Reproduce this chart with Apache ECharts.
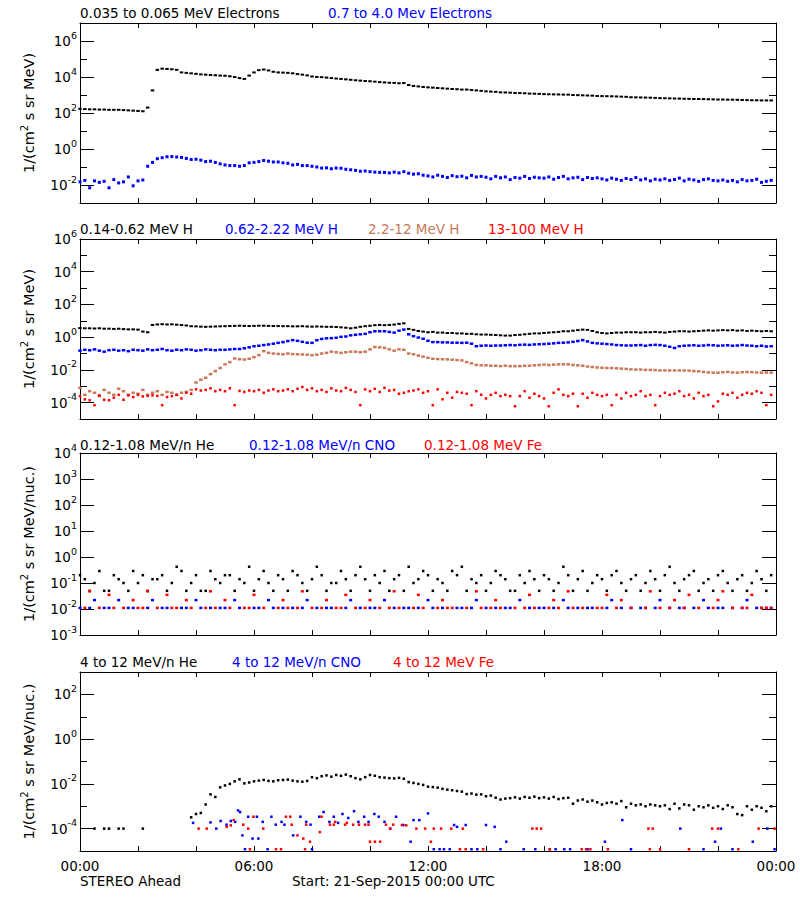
<!DOCTYPE html>
<html><head><meta charset="utf-8">
<script src="https://cdn.jsdelivr.net/npm/echarts/dist/echarts.min.js"></script>
<style>html,body{margin:0;padding:0;background:#fff}#c{width:800px;height:900px}</style>
</head><body><div id="c"></div>
<script>
// ---------- DATA (10-minute samples, index i -> hour i/6) ----------
const TIME_LABELS = ['00:00','06:00','12:00','18:00','00:00'];
const TIME_LABEL_HOURS = [0,6,12,18,24];

const P1_NAMES = ['0.035 to 0.065 MeV Electrons','0.7 to 4.0 Mev Electrons'];
const P2_NAMES = ['0.14-0.62 MeV H','0.62-2.22 MeV H','2.2-12 MeV H','13-100 MeV H'];
const P3_NAMES = ['0.12-1.08 MeV/n He','0.12-1.08 MeV/n CNO','0.12-1.08 MeV Fe'];
const P4_NAMES = ['4 to 12 MeV/n He','4 to 12 MeV/n CNO','4 to 12 MeV Fe'];
const FOOT_LEFT = 'STEREO Ahead';
const FOOT_MID = 'Start: 21-Sep-2015 00:00 UTC';

const P1_LABELS = [1e-2,1,1e2,1e4,1e6];           const P1_MINOR = [1e-1,10,1e3,1e5];
const P2_LABELS = [1e-4,1e-2,1,1e2,1e4,1e6];      const P2_MINOR = [1e-3,1e-1,10,1e3,1e5];
const P3_LABELS = [1e-3,1e-2,1e-1,1,10,100,1e3,1e4]; const P3_MINOR = [];
const P4_LABELS = [1e-4,1e-2,1,1e2];              const P4_MINOR = [1e-3,1e-1,10];

const e1 = [
170,165,160,160,155,155,150,150,150,145,140,135,
130,125,200,1800,2.5e4,2.9e4,2.8e4,2.7e4,2.5e4,1.8e4,1.7e4,1.6e4,
1.5e4,1.4e4,1.35e4,1.3e4,1.25e4,1.2e4,1.17e4,1.1e4,1.0e4,8.7e3,7.8e3,1.2e4,
1.8e4,2.4e4,2.6e4,2.3e4,1.95e4,1.8e4,1.75e4,1.7e4,1.6e4,1.45e4,1.35e4,1.23e4,
1.07e4,1.0e4,9.8e3,9.3e3,8.7e3,8.2e3,7.8e3,7.4e3,7.0e3,6.6e3,6.3e3,6.0e3,
5.8e3,5.5e3,5.2e3,5.0e3,4.8e3,4.7e3,4.5e3,4.6e3,3.6e3,3.2e3,3.0e3,2.8e3,
2650,2550,2450,2350,2250,2150,2100,2000,2000,1900,1800,1700,
1600,1550,1500,1400,1380,1350,1300,1280,1250,1200,1180,1150,
1120,1100,1080,1070,1050,1050,1000,980,960,940,920,880,
870,860,850,830,810,790,750,740,730,720,710,690,
670,660,650,640,630,620,610,600,600,590,580,570,
560,560,550,550,540,530,520,510,510,500,500,500];
const e2 = [
0.015,0.018,0.007,0.017,0.014,0.016,0.007,0.02,0.013,0.015,0.028,0.009,
0.017,0.019,0.11,0.18,0.29,0.33,0.37,0.38,0.36,0.34,0.3,0.26,
0.27,0.24,0.2,0.21,0.18,0.15,0.13,0.12,0.12,0.11,0.12,0.17,
0.18,0.2,0.23,0.21,0.19,0.19,0.17,0.16,0.13,0.14,0.12,0.12,
0.11,0.1,0.087,0.09,0.08,0.088,0.085,0.075,0.07,0.065,0.058,0.06,
0.055,0.052,0.05,0.05,0.047,0.052,0.047,0.055,0.045,0.04,0.042,0.035,
0.032,0.028,0.035,0.03,0.026,0.033,0.029,0.031,0.025,0.034,0.028,0.03,
0.027,0.022,0.03,0.025,0.028,0.02,0.026,0.024,0.03,0.023,0.027,0.025,
0.024,0.028,0.021,0.026,0.03,0.022,0.025,0.027,0.02,0.026,0.023,0.025,
0.022,0.019,0.024,0.021,0.018,0.023,0.02,0.026,0.019,0.022,0.017,0.021,
0.019,0.022,0.018,0.02,0.024,0.017,0.021,0.019,0.016,0.02,0.022,0.018,
0.017,0.019,0.016,0.018,0.015,0.02,0.017,0.018,0.021,0.014,0.016,0.018];

const h1 = [
3.6,3.5,3.5,3.4,3.5,3.3,3.3,3.2,3.3,3.1,3.0,3.0,
2.9,2.2,2.0,5.6,6.0,6.2,6.0,6.1,5.8,5.5,5.2,4.7,
4.6,4.4,4.3,4.4,4.5,4.6,4.7,4.8,4.9,5.0,4.9,4.8,
4.9,5.0,5.0,4.9,4.8,4.8,4.7,4.7,4.6,4.6,4.7,4.5,
4.4,4.5,4.4,4.3,4.3,4.2,4.0,3.8,3.5,3.8,4.3,4.7,
5.0,5.4,5.6,5.4,5.6,5.9,6.5,7.0,3.2,2.8,2.4,2.2,
2.0,2.1,1.9,1.9,1.8,1.8,1.7,1.7,1.6,1.6,1.5,1.45,
1.45,1.4,1.35,1.3,1.25,1.25,1.35,1.4,1.5,1.6,1.7,1.7,
1.8,1.9,2.0,2.1,2.3,2.3,2.5,2.7,2.9,2.8,2.4,2.0,
1.8,1.7,1.8,1.9,1.9,2.0,2.0,2.0,1.9,2.0,2.0,2.1,
2.0,1.9,2.1,2.2,2.3,2.3,2.2,2.3,2.4,2.5,2.6,2.5,
2.6,2.7,2.6,2.7,2.5,2.6,2.4,2.5,2.4,2.3,2.4,2.3];
const h2 = [
0.15,0.17,0.16,0.18,0.15,0.13,0.16,0.17,0.15,0.16,0.14,0.17,
0.16,0.15,0.18,0.16,0.17,0.19,0.16,0.15,0.17,0.16,0.18,0.17,
0.15,0.16,0.18,0.17,0.16,0.17,0.17,0.18,0.19,0.19,0.21,0.24,
0.28,0.3,0.33,0.36,0.4,0.45,0.5,0.58,0.66,0.6,0.52,0.46,
0.45,0.65,0.78,0.85,0.87,0.92,1.05,1.1,1.3,1.4,1.5,1.6,
2.0,2.3,2.3,2.3,2.1,1.9,2.5,2.9,1.5,1.15,0.95,0.8,
0.6,0.5,0.5,0.48,0.48,0.46,0.46,0.45,0.46,0.4,0.28,0.3,
0.31,0.3,0.31,0.31,0.32,0.33,0.32,0.34,0.35,0.34,0.36,0.37,
0.38,0.4,0.42,0.45,0.46,0.48,0.52,0.58,0.66,0.55,0.45,0.42,
0.4,0.38,0.36,0.33,0.32,0.31,0.31,0.32,0.33,0.3,0.33,0.34,
0.33,0.3,0.26,0.22,0.28,0.3,0.31,0.32,0.3,0.31,0.33,0.32,
0.3,0.31,0.32,0.3,0.31,0.33,0.31,0.3,0.28,0.3,0.27,0.28];
const h3 = [
8e-4,3e-4,5e-4,4e-4,2.5e-4,6e-4,4e-4,3e-4,7e-4,5e-4,3e-4,4e-4,
3.5e-4,6e-4,3e-4,4e-4,5e-4,3e-4,4.5e-4,4e-4,3e-4,4e-4,4.5e-4,6e-4,
1.7e-3,2.5e-3,3.3e-3,5.5e-3,8.5e-3,1.3e-2,2.2e-2,3e-2,5e-2,4.5e-2,4.3e-2,4.8e-2,
0.06,0.08,0.14,0.11,0.1,0.095,0.09,0.1,0.092,0.09,0.088,0.085,
0.08,0.085,0.1,0.11,0.13,0.12,0.11,0.12,0.13,0.13,0.12,0.13,
0.18,0.25,0.24,0.22,0.18,0.15,0.18,0.17,0.1,0.09,0.075,0.065,
0.055,0.048,0.046,0.045,0.044,0.042,0.04,0.038,0.03,0.025,0.02,0.019,
0.019,0.018,0.018,0.017,0.018,0.017,0.017,0.017,0.018,0.018,0.019,0.02,
0.021,0.02,0.021,0.022,0.022,0.022,0.02,0.019,0.018,0.016,0.015,0.014,
0.0135,0.013,0.013,0.0125,0.012,0.0115,0.0107,0.0105,0.0105,0.01,0.01,0.0098,
0.0093,0.0093,0.0092,0.0092,0.0093,0.0092,0.009,0.0085,0.0082,0.0075,0.007,0.0068,
0.0068,0.0072,0.0075,0.007,0.0068,0.0072,0.0074,0.0073,0.007,0.0068,0.0069,0.0068];
const h4 = [
2.5e-4,1.6e-4,1.4e-4,7e-5,2.8e-4,1.5e-4,1.4e-4,2e-4,3e-4,1.5e-4,2.8e-4,2.2e-4,
3e-4,2.4e-4,2.6e-4,2.8e-4,2.6e-4,7e-5,2.2e-4,2.5e-4,3e-4,1.8e-4,4e-4,3.5e-4,
6.5e-4,5.5e-4,6e-4,7.5e-4,5e-4,6e-4,5e-4,7.5e-4,7e-5,5.2e-4,4.5e-4,5.5e-4,
5e-4,6e-4,4e-4,5.5e-4,6.5e-4,5e-4,5.5e-4,6.5e-4,5e-4,7e-4,9e-4,6e-4,
7.5e-4,5e-4,6e-4,4.5e-4,7.5e-4,5.5e-4,5e-4,8e-4,6e-4,4.5e-4,7e-5,6.5e-4,
5e-4,7e-4,4.5e-4,8e-4,5.5e-4,6e-4,3.5e-4,4e-4,5e-4,5.5e-4,6.5e-4,4e-4,
5e-4,7e-5,6.5e-4,1.6e-4,4e-4,2e-4,4.5e-4,4e-4,3.5e-4,7e-5,5e-4,3e-4,
1.8e-4,3e-4,4e-4,2.5e-4,3e-4,2.5e-4,6e-5,2.5e-4,5e-4,2e-4,3.5e-4,2.5e-4,
1.8e-4,6e-5,4e-4,6.5e-4,3e-4,2.5e-4,3.5e-4,6e-5,3.5e-4,2e-4,4e-4,3e-4,
2.5e-4,3e-4,7e-5,3e-4,1.8e-4,4e-4,2.5e-4,3e-4,5e-4,2.5e-4,3e-4,7e-5,
2.5e-4,4e-4,3e-4,3.5e-4,5e-4,2.5e-4,3e-4,1.8e-4,4e-4,2.5e-4,3e-4,6e-5,
1.2e-4,3.5e-4,3e-4,4e-4,2e-4,3e-4,4e-4,3.5e-4,5e-4,4e-4,7e-5,3e-4];

// 0 = no measurement
const he3 = [
0.2,0.14,0.05,0.1,0.29,0.05,0.05,0.2,0.14,0.1,0.05,0.29,
0.1,0.2,0.05,0.14,0.14,0.2,0.05,0.1,0.42,0.29,0.05,0.1,
0.2,0.05,0.05,0.29,0.14,0.1,0.2,0.2,0.05,0.14,0.1,0.42,
0.05,0.14,0.29,0.1,0.05,0.2,0.14,0.05,0.29,0.2,0.1,0.05,
0.14,0.42,0.2,0.05,0.1,0.1,0.29,0.14,0.05,0.2,0.42,0.14,
0.05,0.2,0.1,0.29,0.05,0.14,0.2,0.05,0.42,0.1,0.14,0.29,
0.2,0.05,0.14,0.1,0.05,0.29,0.2,0.42,0.05,0.14,0.1,0.2,
0.05,0.1,0.29,0.2,0.14,0.05,0.05,0.2,0.1,0.29,0.14,0.05,
0.2,0.14,0.05,0.1,0.42,0.2,0.05,0.14,0.29,0.05,0.1,0.2,
0.14,0.05,0.2,0.29,0.1,0.05,0.14,0.2,0.05,0.1,0.29,0.14,
0.05,0.2,0.42,0.1,0.05,0.14,0.2,0.29,0.05,0.1,0.14,0.05,
0.2,0.29,0.1,0.05,0.14,0.2,0.05,0.1,0.29,0.14,0.05,0.2];
const cno3 = [
0.011,0,0.011,0.022,0,0.011,0.011,0,0.022,0,0.011,0.011,
0,0,0.011,0.022,0,0.011,0.011,0,0,0.011,0.011,0,
0.022,0.011,0,0.011,0,0.011,0.011,0,0.022,0.011,0,0,
0.011,0.011,0,0.022,0.011,0,0.011,0,0.011,0,0.011,0.022,
0,0.011,0,0.011,0.011,0,0,0.011,0.022,0,0.011,0,
0.011,0.011,0,0.022,0,0.011,0,0.011,0.011,0,0.011,0,
0.022,0.011,0,0.011,0,0,0.011,0.011,0,0.011,0.022,0,
0.011,0,0.011,0,0.011,0.011,0,0.022,0,0.011,0,0.011,
0.011,0,0.011,0,0.022,0.011,0,0.011,0,0.011,0.011,0,
0,0.011,0.022,0,0.011,0,0.011,0,0.011,0.011,0,0.011,
0.022,0,0.011,0,0.011,0.011,0,0.011,0,0.022,0.011,0,
0.011,0.011,0,0.011,0,0.011,0.022,0,0.011,0.011,0.011,0.011];
const fe3 = [
0,0.011,0.048,0,0.011,0,0.035,0.011,0,0.011,0,0.022,
0.011,0.011,0.048,0,0.011,0,0.035,0.011,0.011,0,0.022,0.011,
0,0,0.011,0.048,0.011,0,0.022,0.011,0,0,0.011,0.011,
0.035,0,0.011,0,0,0.011,0.022,0.011,0,0.011,0.048,0,
0.011,0,0.011,0.022,0,0.011,0.011,0.035,0,0.011,0,0.011,
0.022,0,0.011,0,0.011,0.048,0.011,0,0,0.011,0.035,0.011,
0,0,0.011,0.022,0.011,0.011,0,0,0.011,0,0.048,0.011,
0,0.011,0.022,0.011,0,0,0.011,0,0.011,0.035,0.011,0,
0,0.011,0.022,0.011,0,0.048,0.011,0,0.011,0,0,0.011,
0.011,0.035,0,0.011,0.022,0,0.011,0,0,0.011,0.048,0,
0.011,0,0.011,0.022,0,0.011,0.035,0,0.011,0,0,0.011,
0.022,0.048,0,0.011,0,0.011,0.011,0.035,0,0.011,0.011,0.011];

const he4 = [
0,0,0,1e-4,0,1e-4,1e-4,0,1e-4,1e-4,0,0,
0,1e-4,0,0,0,0,0,0,0,0,0,3.2e-4,
4.5e-4,5e-4,1.2e-3,3.4e-3,2.6e-3,7e-3,8.5e-3,1.0e-2,1.3e-2,1.6e-2,1.05e-2,1.15e-2,
1.3e-2,1.4e-2,1.5e-2,1.35e-2,1.3e-2,1.45e-2,1.5e-2,1.55e-2,1.4e-2,1.3e-2,1.25e-2,1.35e-2,
2.0e-2,1.8e-2,2.2e-2,2.4e-2,2.1e-2,2.5e-2,2.3e-2,2.6e-2,2.2e-2,1.8e-2,1.6e-2,2.0e-2,
2.5e-2,2.3e-2,2.0e-2,1.9e-2,1.8e-2,1.75e-2,1.85e-2,1.7e-2,1.2e-2,1.1e-2,1.0e-2,9e-3,
7.5e-3,7.2e-3,6.8e-3,6e-3,5.5e-3,5.2e-3,4.8e-3,4.5e-3,3.5e-3,3.7e-3,3.3e-3,3.4e-3,
2.8e-3,3.0e-3,2.4e-3,2.0e-3,2.2e-3,2.3e-3,2.5e-3,2.2e-3,2.6e-3,2.4e-3,2.7e-3,2.3e-3,
2.5e-3,2.2e-3,2.6e-3,2.1e-3,2.3e-3,2.4e-3,1.3e-3,1.8e-3,2.0e-3,1.6e-3,1.8e-3,1.5e-3,
1.2e-3,1.4e-3,1.5e-3,1.3e-3,1.7e-3,9e-4,1.3e-3,1.1e-3,1.2e-3,1.0e-3,1.2e-3,1.1e-3,
1.0e-3,1.1e-3,7.5e-4,1.3e-3,8e-4,1.2e-3,1.1e-3,7e-4,1.0e-3,9e-4,1.1e-3,8.5e-4,
1.0e-3,7.5e-4,1.1e-3,9e-4,4.5e-4,4e-4,1.0e-3,7e-4,1.0e-3,8.5e-4,6e-4,1.0e-3];
// sparse [hour, value] samples
const cno4 = [[3.9,1.8e-4],[4.5,1.9e-4],[4.7,1e-4],[4.85,2.2e-4],[5.05,1.5e-4],[5.2,2.2e-4],[5.35,2e-4],[5.45,6.5e-4],[5.52,5.5e-4],[5.6,5e-5],[5.69,1.2e-5],[5.8,3.4e-4],[5.95,3.6e-5],[6.1,3.4e-4],[6.15,3.6e-5],[6.3,2e-4],[6.47,1.2e-5],[6.6,3.4e-4],[6.75,1.5e-4],[6.95,2e-4],[7.05,1.5e-4],[7.35,5e-5],[7.6,3.4e-4],[7.8,2e-4],[7.95,1.5e-4],[8.0,1.2e-5],[8.25,3.4e-4],[8.4,5.5e-4],[8.6,2e-4],[8.75,3.4e-4],[8.9,1.8e-4],[9.05,4.5e-4],[9.25,3e-4],[9.45,6e-4],[9.6,2e-4],[9.8,3.4e-4],[9.95,2e-4],[10.15,4.5e-4],[10.3,3.4e-4],[10.5,2e-4],[10.7,1e-4],[10.9,3.4e-4],[11.15,1.45e-4],[11.4,2.6e-5],[11.5,2.4e-4],[11.7,2.4e-4],[12.0,4.8e-4],[12.2,1.2e-5],[12.4,1.2e-5],[12.55,1.2e-5],[12.75,1.2e-5],[12.9,1.45e-4],[13.0,1.2e-4],[13.3,1.45e-4],[13.5,1.2e-5],[13.7,1.2e-5],[14.0,1.45e-4],[14.3,1.2e-4],[14.5,1.2e-5],[14.7,2.6e-5],[15.3,1.2e-5],[15.7,1.2e-5],[16.2,1.2e-5],[16.4,1.2e-5],[16.7,1.2e-5],[16.9,1.2e-5],[17.5,1.2e-5],[18.1,2.6e-5],[18.7,2.4e-4],[19.0,1.2e-5],[20.7,1e-4],[21.5,1.2e-5],[21.9,2.6e-5],[22.1,1e-4],[22.5,1.2e-5],[23.2,2.6e-5],[23.7,1e-4],[23.95,1.2e-5]];
const fe4 = [[4.09,1e-4],[4.37,1e-4],[5.06,1.2e-4],[5.2,1.4e-4],[5.3,2.4e-4],[5.63,1.5e-4],[5.8,1e-4],[5.86,1.2e-5],[5.98,3.4e-4],[6.32,1e-4],[6.76,1.2e-5],[6.93,1.2e-5],[7.1,3.4e-4],[7.25,3.4e-4],[7.3,1.5e-4],[7.5,5e-5],[7.7,3.6e-5],[7.76,1.2e-5],[7.8,1.5e-4],[7.93,2.6e-5],[8.27,7e-5],[8.33,3.4e-4],[8.62,1.5e-4],[8.75,1.5e-4],[8.8,2e-4],[9.14,1.5e-4],[9.2,1.8e-4],[9.42,1.5e-4],[9.62,1.5e-4],[9.83,1.5e-4],[9.95,1.5e-4],[10.0,2.6e-5],[10.17,2.6e-5],[10.35,2.6e-5],[10.55,1.5e-4],[10.69,1e-4],[10.8,1.5e-4],[11.1,1.45e-4],[11.25,1.4e-4],[11.6,1e-4],[11.9,1e-4],[12.1,2.6e-5],[12.2,1e-4],[12.45,1e-4],[12.8,1e-4],[13.1,1.2e-5],[13.2,1e-4],[13.3,1.2e-5],[13.9,1.2e-5],[15.6,1e-4],[15.75,1e-4],[15.9,1e-4],[16.2,1.2e-5],[17.3,1.2e-5],[17.45,1.2e-5],[17.6,1.2e-5],[18.2,1.2e-5],[19.6,1e-4],[19.65,1.2e-5],[19.75,1e-4],[20.0,1.2e-5],[21.0,1.2e-5],[21.8,1e-4],[22.0,1e-4],[22.7,1.2e-5],[23.4,1e-4],[23.95,1e-4]];

// ---------- CHART ----------
const FONT = 'DejaVu Sans';
const FS = 13.5;
const BLACK = '#000000', BLUE = '#0000ff', BROWN = '#c87858', RED = '#ff0000';

function pts(arr) { const out = []; arr.forEach((v, i) => { if (v > 0) out.push([i / 6, v]); }); return out; }

const panels = [
  { top: 23, height: 180, min: 1e-3, max: 1e7, labels: P1_LABELS, minors: P1_MINOR, name: '1/(cm{s|2} s sr MeV)',
    names: P1_NAMES, nameX: [80, 328], nameY: 13,
    series: [[pts(e1), BLACK, [3.5, 2]], [pts(e2), BLUE, [3, 3]]] },
  { top: 239, height: 180, min: 1e-5, max: 1e6, labels: P2_LABELS, minors: P2_MINOR, name: '1/(cm{s|2} s sr MeV)',
    names: P2_NAMES, nameX: [80, 225, 368, 488], nameY: 229,
    series: [[pts(h1), BLACK, [3.5, 2]], [pts(h2), BLUE, [3.5, 2.5]], [pts(h3), BROWN, [3.5, 2.5]], [pts(h4), RED, [2.5, 2.5]]] },
  { top: 453, height: 182, min: 1e-3, max: 1e4, labels: P3_LABELS, minors: P3_MINOR, name: '1/(cm{s|2} s sr MeV/nuc.)',
    names: P3_NAMES, nameX: [80, 249, 424], nameY: 445,
    series: [[pts(he3), BLACK, [2.5, 2.5]], [pts(cno3), BLUE, [3, 2.5]], [pts(fe3), RED, [3, 2.5]]] },
  { top: 672, height: 179, min: 1e-5, max: 1e3, labels: P4_LABELS, minors: P4_MINOR, name: '1/(cm{s|2} s sr MeV/nuc.)',
    names: P4_NAMES, nameX: [80, 232, 393], nameY: 662,
    series: [[pts(he4), BLACK, [2.5, 2.5]], [cno4, BLUE, [2.5, 2.5]], [fe4, RED, [2.5, 2.5]]] }
];
const NAME_COLORS = [[BLACK, BLUE], [BLACK, BLUE, BROWN, RED], [BLACK, BLUE, RED], [BLACK, BLUE, RED]];

const option = {
  animation: false, backgroundColor: '#fff',
  textStyle: { fontFamily: FONT },
  grid: [], xAxis: [], yAxis: [], series: [], graphic: []
};

panels.forEach((p, g) => {
  option.grid.push({ left: 80, right: 24, top: p.top, height: p.height, show: false, containLabel: false, outerBoundsMode: 'none' });
  const xCommon = { type: 'value', gridIndex: g, min: 0, max: 24, interval: 2, splitLine: { show: false },
    axisLine: { show: true, onZero: false, lineStyle: { color: '#000', width: 1 } },
    axisTick: { show: true, inside: true, length: 5, lineStyle: { color: '#000', width: 1 } } };
  const last = g === panels.length - 1;
  option.xAxis.push(Object.assign({}, xCommon, { position: 'bottom',
    axisLabel: last ? { show: true, customValues: TIME_LABEL_HOURS, margin: 8, color: '#000', fontSize: FS, fontFamily: FONT,
      formatter: v => TIME_LABELS[TIME_LABEL_HOURS.indexOf(v)] } : { show: false } }));
  option.xAxis.push(Object.assign({}, xCommon, { position: 'top', axisLabel: { show: false } }));

  const yBase = { type: 'log', logBase: 10, gridIndex: g, min: p.min, max: p.max, splitLine: { show: false }, minorSplitLine: { show: false } };
  const tickStyle = { color: '#000', width: 1 };
  option.yAxis.push(Object.assign({}, yBase, { position: 'left',
    axisLine: { show: true, lineStyle: { color: '#000', width: 1 } },
    axisTick: { show: true, inside: true, length: 14, customValues: p.labels, lineStyle: tickStyle },
    axisLabel: { show: true, customValues: p.labels, margin: 3, color: '#000',
      formatter: v => '{b|10}{s|' + Math.round(Math.log10(v)) + '}',
      rich: { b: { fontSize: FS, lineHeight: 14, fontFamily: FONT, color: '#000' },
              s: { fontSize: 9.5, lineHeight: 10, fontFamily: FONT, color: '#000', padding: [0, 0, 12, 0] } } },
    name: p.name, nameLocation: 'middle', nameGap: 38, nameRotate: 90,
    nameTextStyle: { fontSize: 14.5, fontFamily: FONT, color: '#000',
      rich: { s: { fontSize: 10, lineHeight: 10, fontFamily: FONT, color: '#000', padding: [0, 0, 10, 0] } } } }));
  option.yAxis.push(Object.assign({}, yBase, { position: 'left', axisLine: { show: false },
    axisTick: { show: p.minors.length > 0, inside: true, length: 7, customValues: p.minors.length ? p.minors : undefined, lineStyle: tickStyle },
    axisLabel: { show: false } }));
  option.yAxis.push(Object.assign({}, yBase, { position: 'right',
    axisLine: { show: true, lineStyle: { color: '#000', width: 1 } },
    axisTick: { show: true, inside: true, length: 14, customValues: p.labels, lineStyle: tickStyle },
    axisLabel: { show: false } }));
  option.yAxis.push(Object.assign({}, yBase, { position: 'right', axisLine: { show: false },
    axisTick: { show: p.minors.length > 0, inside: true, length: 7, customValues: p.minors.length ? p.minors : undefined, lineStyle: tickStyle },
    axisLabel: { show: false } }));

  p.series.forEach(([data, color, size]) => {
    option.series.push({ type: 'scatter', xAxisIndex: 2 * g, yAxisIndex: 4 * g, data: data,
      symbol: 'rect', symbolSize: size, itemStyle: { color: color, opacity: 1 }, silent: true, clip: true });
  });

  p.names.forEach((t, k) => {
    option.graphic.push({ type: 'text', x: p.nameX[k], y: p.nameY, silent: true,
      style: { text: t, fill: NAME_COLORS[g][k], fontSize: FS, fontFamily: FONT, align: 'left', verticalAlign: 'middle' } });
  });
});

option.graphic.push({ type: 'text', x: 80, y: 881, silent: true,
  style: { text: FOOT_LEFT, fill: '#000', fontSize: FS, fontFamily: FONT, align: 'left', verticalAlign: 'middle' } });
option.graphic.push({ type: 'text', x: 292, y: 881, silent: true,
  style: { text: FOOT_MID, fill: '#000', fontSize: FS, fontFamily: FONT, align: 'left', verticalAlign: 'middle' } });

const chart = echarts.init(document.getElementById('c'), null, { renderer: 'svg', width: 800, height: 900 });
chart.setOption(option);
</script></body></html>
